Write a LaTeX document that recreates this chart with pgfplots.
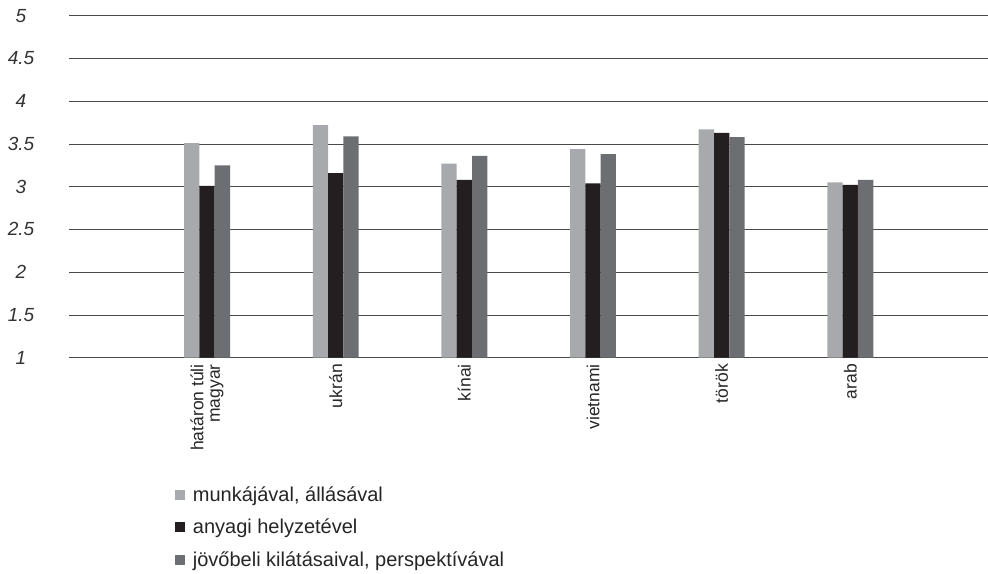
\documentclass[border=0pt]{standalone}
\usepackage{pgfplots}
\pgfplotsset{compat=1.18}
\usepackage{fontspec}
\setmainfont{Liberation Sans}
\definecolor{cLight}{HTML}{A7A9AC}
\definecolor{cBlack}{HTML}{231F20}
\definecolor{cDark}{HTML}{6D6E71}
\definecolor{cGrid}{HTML}{4A4A4A}
\begin{document}
\begin{tikzpicture}
\path[use as bounding box] (-69pt,-215.3pt) rectangle (919pt,357.7pt);
\begin{axis}[
  at={(0pt,0pt)}, anchor=south west,
  scale only axis, width=919pt, height=342pt,
  ybar=0pt, bar width=15.3pt,
  xmin=-1.073, xmax=6.07,
  ymin=1, ymax=5,
  ytick={1,1.5,2,2.5,3,3.5,4,4.5,5},
  xtick={0,1,2,3,4,5},
  xticklabels={{határon túli\\magyar},ukrán,kínai,vietnami,török,arab},
  xticklabel style={yshift=-3pt, rotate=90, anchor=east, align=right, font=\fontsize{17.5}{16.5}\selectfont, text=black!85},
  yticklabel style={anchor=center, xshift=-48pt, font=\fontsize{19}{22}\selectfont\itshape, text=black!80},
  /pgf/number format/assume math mode=true,
  ymajorgrids, grid style={cGrid, line width=0.7pt},
  axis line style={draw=none},
  major tick length=0pt,
  legend style={draw=none, at={(0.115,-0.37)}, anchor=north west, font=\fontsize{20}{24}\selectfont, text=black!85, row sep=12.5pt, inner sep=0pt},
  legend cell align=left,
  legend image code/.code={\fill[#1] (0pt,-5pt) rectangle (10pt,5pt); \path (16pt,0pt);},
]
\addplot[fill=cLight, draw=none] coordinates {(0,3.51) (1,3.72) (2,3.27) (3,3.44) (4,3.67) (5,3.05)};
\addplot[fill=cBlack, draw=none] coordinates {(0,3.01) (1,3.16) (2,3.08) (3,3.04) (4,3.63) (5,3.02)};
\addplot[fill=cDark, draw=none] coordinates {(0,3.25) (1,3.59) (2,3.36) (3,3.38) (4,3.58) (5,3.08)};
\legend{{munkájával, állásával}, {anyagi helyzetével}, {jövőbeli kilátásaival, perspektívával}}
\end{axis}
\end{tikzpicture}
\end{document}
